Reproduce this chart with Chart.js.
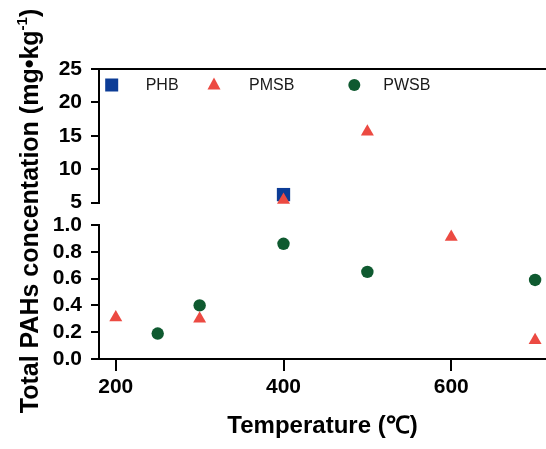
<!DOCTYPE html>
<html>
<head>
<meta charset="utf-8">
<script src="https://cdn.jsdelivr.net/npm/chart.js@4.4.1/dist/chart.umd.min.js"></script>
<style>
  html, body { margin: 0; padding: 0; background: #fff; }
  #wrap { width: 546px; height: 449px; position: relative; }
</style>
</head>
<body>
<div id="wrap"><canvas id="pahChart" width="546" height="449"></canvas></div>
<script>
// tick values
const xTicks = [200, 400, 600];
const yTopTicks = [5, 10, 15, 20, 25];
const yBotTicks = [0, 0.2, 0.4, 0.6, 0.8, 1.0];

// series (upper part of the broken axis = 5..25, lower part = 0..1)
const phbTemp = [400];
const phbHigh = [6.2];
const pmsbTempHigh = [400, 500];
const pmsbHigh = [5.4, 15.6];
const pmsbTempLow = [200, 300, 600, 700];
const pmsbLow = [0.31, 0.30, 0.91, 0.14];
const pwsbTemp = [250, 300, 400, 500, 700];
const pwsbLow = [0.19, 0.40, 0.86, 0.65, 0.59];

const colors = {
    phb: "#0c3c96",
    pmsb: "#ec4a42",
    pwsb: "#0f5a30",
};

const FONT = "'Liberation Sans', Arial, sans-serif";

function toPoints(xs, ys) {
    return xs.map((x, i) => ({ x: x, y: ys[i] }));
}

function setTicks(values) {
    return function (scale) {
        scale.ticks = values.map((v) => ({ value: v }));
    };
}

// legend drawn inside the plot, top-left
const insideLegend = {
    id: "insideLegend",
    afterDraw(chart) {
        const { ctx, chartArea } = chart;
        const y = chartArea.top + 16;
        const items = [
            { label: "PHB", color: colors.phb, shape: "rect", mx: 12.7, tx: 46.7 },
            { label: "PMSB", color: colors.pmsb, shape: "triangle", mx: 115, tx: 150 },
            { label: "PWSB", color: colors.pwsb, shape: "circle", mx: 255.3, tx: 284.3 },
        ];
        ctx.save();
        items.forEach((it) => {
            const mx = chartArea.left + it.mx;
            ctx.fillStyle = it.color;
            ctx.beginPath();
            if (it.shape === "rect") {
                ctx.rect(mx - 6.5, y - 6.5, 13, 13);
            } else if (it.shape === "triangle") {
                ctx.moveTo(mx, y - 7.5);
                ctx.lineTo(mx + 6.5, y + 4.5);
                ctx.lineTo(mx - 6.5, y + 4.5);
                ctx.closePath();
            } else {
                ctx.arc(mx, y, 6, 0, Math.PI * 2);
            }
            ctx.fill();
            ctx.fillStyle = "#1a1a1a";
            ctx.font = "16px " + FONT;
            ctx.textBaseline = "middle";
            ctx.textAlign = "left";
            ctx.fillText(it.label, chartArea.left + it.tx, y + 1);
        });
        ctx.restore();
    },
};

// y title spans both halves of the broken axis
const yTitle = {
    id: "yTitle",
    afterDraw(chart) {
        const { ctx, chartArea } = chart;
        const main = "Total PAHs concentation (mg\u2022kg";
        const sup = "-1";
        const close = ")";
        ctx.save();
        ctx.translate(38, (chartArea.top + chartArea.bottom) / 2 - 3);
        ctx.rotate(-Math.PI / 2);
        ctx.fillStyle = "#000";
        ctx.textBaseline = "alphabetic";
        ctx.textAlign = "left";
        ctx.font = "bold 25px " + FONT;
        const wMain = ctx.measureText(main).width;
        const wClose = ctx.measureText(close).width;
        ctx.font = "bold 15px " + FONT;
        const wSup = ctx.measureText(sup).width;
        let x = -(wMain + wSup + wClose) / 2;
        ctx.font = "bold 25px " + FONT;
        ctx.fillText(main, x, 0);
        x += wMain;
        ctx.font = "bold 15px " + FONT;
        ctx.fillText(sup, x, -11);
        x += wSup;
        ctx.font = "bold 25px " + FONT;
        ctx.fillText(close, x, 0);
        ctx.restore();
    },
};

const tickFont = { family: FONT, size: 21, weight: "bold" };
const axisLine = { color: "#000", width: 2 };
const tickMarks = { drawOnChartArea: false, color: "#000", lineWidth: 2, tickLength: 8 };

const ctx = document.getElementById("pahChart");

new Chart(ctx, {
    type: "scatter",
    data: {
        datasets: [
            {
                label: "PHB",
                data: toPoints(phbTemp, phbHigh),
                yAxisID: "yTop",
                order: 1,
                pointStyle: "rect",
                pointRadius: 9.4,
                backgroundColor: colors.phb,
                borderColor: colors.phb,
                borderWidth: 0,
            },
            {
                label: "PMSB",
                data: toPoints(pmsbTempHigh, pmsbHigh),
                yAxisID: "yTop",
                order: 0,
                pointStyle: "triangle",
                pointRadius: 7.5,
                backgroundColor: colors.pmsb,
                borderColor: colors.pmsb,
                borderWidth: 0,
            },
            {
                label: "PMSB",
                data: toPoints(pmsbTempLow, pmsbLow),
                yAxisID: "yBot",
                order: 0,
                pointStyle: "triangle",
                pointRadius: 7.5,
                backgroundColor: colors.pmsb,
                borderColor: colors.pmsb,
                borderWidth: 0,
            },
            {
                label: "PWSB",
                data: toPoints(pwsbTemp, pwsbLow),
                yAxisID: "yBot",
                order: 0,
                pointStyle: "circle",
                pointRadius: 6.2,
                backgroundColor: colors.pwsb,
                borderColor: colors.pwsb,
                borderWidth: 0,
            },
        ],
    },
    options: {
        responsive: false,
        animation: false,
        clip: false,
        layout: { autoPadding: false, padding: { top: 61, right: 0, bottom: 4, left: 0 } },
        plugins: {
            legend: { display: false },
            tooltip: { enabled: false },
        },
        scales: {
            x: {
                type: "linear",
                position: "bottom",
                min: 180,
                max: 713,
                afterBuildTicks: setTicks(xTicks),
                border: axisLine,
                grid: { drawOnChartArea: false, color: "#000", lineWidth: 2, tickLength: 12 },
                ticks: { font: tickFont, color: "#000", padding: 4, maxRotation: 0, autoSkip: false },
                title: {
                    display: true,
                    text: "Temperature (\u2103)",
                    color: "#000",
                    font: { family: FONT, size: 24, weight: "bold" },
                    padding: { top: 8, bottom: 4 },
                },
            },
            xTop: {
                type: "linear",
                position: "top",
                border: axisLine,
                grid: { display: false },
                ticks: { display: false },
            },
            yTop: {
                type: "linear",
                position: "left",
                stack: "y",
                stackWeight: 139,
                weight: 3,
                min: 5,
                max: 25,
                afterBuildTicks: setTicks(yTopTicks),
                afterFit: (s) => { s.width = 99; },
                border: axisLine,
                grid: tickMarks,
                ticks: { font: tickFont, color: "#000", padding: 9, autoSkip: false },
            },
            yGap: {
                type: "linear",
                position: "left",
                stack: "y",
                stackWeight: 23.3,
                weight: 2,
                afterFit: (s) => { s.width = 99; },
                border: { display: false },
                grid: { display: false },
                ticks: { display: false },
            },
            yBot: {
                type: "linear",
                position: "left",
                stack: "y",
                stackWeight: 139.4,
                weight: 1,
                min: 0,
                max: 1,
                afterBuildTicks: setTicks(yBotTicks),
                afterFit: (s) => { s.width = 99; },
                border: axisLine,
                grid: tickMarks,
                ticks: {
                    font: tickFont,
                    color: "#000",
                    padding: 9,
                    autoSkip: false,
                    callback: (v) => Number(v).toFixed(1),
                },
            },
        },
    },
    plugins: [insideLegend, yTitle],
});
</script>
</body>
</html>
